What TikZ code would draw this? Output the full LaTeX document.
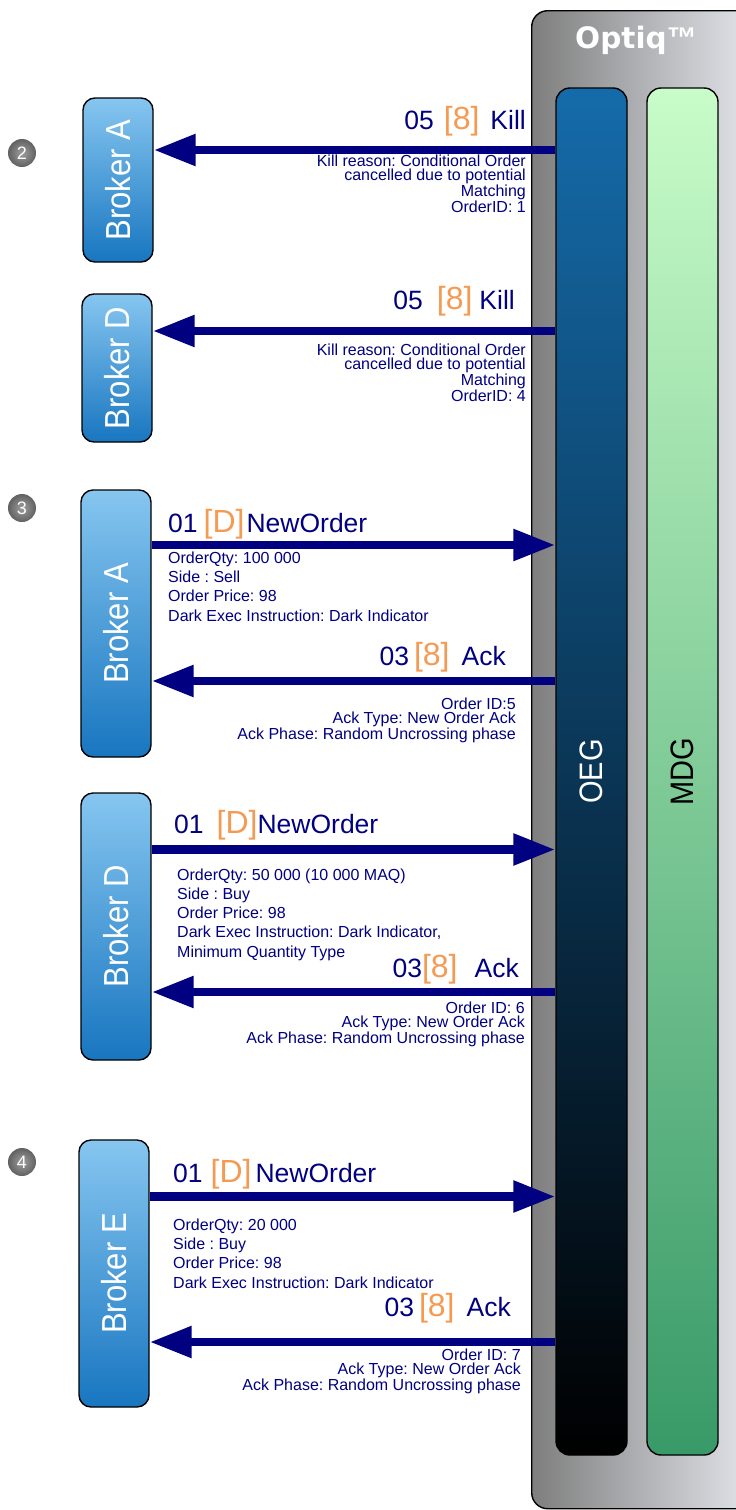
\documentclass[tikz,border=0pt]{standalone}
\usepackage{fontspec}
\setmainfont{Liberation Sans}
\newfontfamily\titlefont{DejaVu Sans}
\newfontfamily\tmfont{Liberation Sans}
\usetikzlibrary{arrows.meta,calc}
\definecolor{navy}{HTML}{000080}
\definecolor{orng}{HTML}{F59A52}
\definecolor{brktop}{HTML}{86C6F0}
\definecolor{brkbot}{HTML}{1876C0}
\definecolor{oegtop}{HTML}{156BAA}
\definecolor{mdgtop}{HTML}{C8FCC8}
\definecolor{mdgbot}{HTML}{389A68}
\definecolor{optl}{HTML}{7E7E7E}
\definecolor{optr}{HTML}{E6E9EF}
\newcommand{\ob}[1]{{\color{orng}\fontsize{32}{32}\selectfont #1}}
\tikzset{
  broker/.style={draw=black, line width=1.4pt, rounded corners=12pt, top color=brktop, bottom color=brkbot, minimum width=70, inner sep=0},
  brokertext/.style={rotate=90, text=white, font=\fontsize{31}{31}\selectfont, inner sep=0},
  bartext/.style={rotate=90, font=\fontsize{29}{29}\selectfont, inner sep=0},
  msgr/.style={draw=navy, line width=8.5pt, -{Triangle[length=42pt,width=30pt]}},
  lbl/.style={text=navy, font=\fontsize{26.5}{26.5}\selectfont, inner sep=0},
  descr/.style={text=navy, font=\fontsize{16}{14}\selectfont\frenchspacing, inner sep=0, align=right},
  descl/.style={text=navy, font=\fontsize{16}{19.2}\selectfont\frenchspacing, inner sep=0, align=left},
  num/.style={circle, minimum size=28, inner sep=0, inner color=black!38, outer color=black!62, text=white, font=\fontsize{18}{18}\selectfont}
}
\begin{document}
\begin{tikzpicture}[x=1pt,y=-1pt]
\useasboundingbox (0,0) rectangle (736,1510);
\clip (0,0) rectangle (736,1510);
% Optiq container
\node[draw=black, line width=1.4pt, rounded corners=16pt, left color=optl, right color=optr, minimum width=230, minimum height=1498, inner sep=0, anchor=north west] (optiq) at (531,10) {};
\node[text=white, font=\titlefont\bfseries\fontsize{29.5}{29.5}\selectfont, anchor=base, inner sep=0] (title) at (636,48) {Optiq{\tmfont\bfseries\fontsize{30}{30}\selectfont ™}};
% OEG and MDG
\node[draw=black, line width=1.4pt, rounded corners=14pt, top color=oegtop, bottom color=black, minimum width=71, minimum height=1367, inner sep=0] (oeg) at (591.5,771.5) {};
\node[bartext, text=white] (oegt) at (oeg) {\scalebox{1}[1.12]{OEG}};
\node[draw=black, line width=1.4pt, rounded corners=14pt, top color=mdgtop, bottom color=mdgbot, minimum width=71, minimum height=1367, inner sep=0] (mdg) at (682.5,771.5) {};
\node[bartext, text=black] (mdgt) at (mdg) {\scalebox{1}[1.12]{MDG}};
% step numbers
\node[num] (n2) at (22,153) {2};
\node[num] (n3) at (22,508) {3};
\node[num] (n4) at (22,1162) {4};
% brokers
\node[broker, minimum height=164] (bA1) at (118,180) {};
\node[brokertext] at (bA1) {\scalebox{1}[1.12]{Broker A}};
\node[broker, minimum height=148] (bD1) at (117,368) {};
\node[brokertext] at (bD1) {\scalebox{1}[1.12]{Broker D}};
\node[broker, minimum height=267] (bA2) at (116,623.5) {};
\node[brokertext] at (bA2) {\scalebox{1}[1.12]{Broker A}};
\node[broker, minimum height=267] (bD2) at (116,926.5) {};
\node[brokertext] at (bD2) {\scalebox{1}[1.12]{Broker D}};
\node[broker, minimum height=267] (bE) at (114,1273.5) {};
\node[brokertext] at (bE) {\scalebox{1}[1.12]{Broker E}};
% messages (multi-line text nodes are anchored at the baseline of their last line)
\draw[msgr] (oeg.west |- 0,150) -- (bA1.east |- 0,150);
\node[lbl, anchor=base east] (l1) at (526,129) {05\hspace{10pt}\ob{[8]}\hspace{11pt}Kill};
\node[descr, anchor=base east] (d1) at (526,212) {Kill reason: Conditional Order\\cancelled due to potential\\Matching\\OrderID: 1};

\draw[msgr] (oeg.west |- 0,331) -- (bD1.east |- 0,331);
\node[lbl, anchor=base east] (l2) at (515,309) {05\hspace{14pt}\ob{[8]}\hspace{7pt}Kill};
\node[descr, anchor=base east] (d2) at (526,401) {Kill reason: Conditional Order\\cancelled due to potential\\Matching\\OrderID: 4};

\draw[msgr] (bA2.east |- 0,545) -- (oeg.west |- 0,545);
\node[lbl, anchor=base west] (l3) at (168,532) {01\hspace{6pt}\ob{[D]}\hspace{2pt}NewOrder};
\node[descl, anchor=base west] (d3) at (168,621) {OrderQty: 100 000\\Side : Sell\\Order Price: 98\\Dark Exec Instruction: Dark Indicator};

\draw[msgr] (oeg.west |- 0,681) -- (bA2.east |- 0,681);
\node[lbl, anchor=base east] (l4) at (506,665) {03\hspace{5pt}\ob{[8]}\hspace{12pt}Ack};
\node[descr, anchor=base east] (d4) at (516,739.5) {Order ID:5\\Ack Type: New Order Ack\\Ack Phase: Random Uncrossing phase};

\draw[msgr] (bD2.east |- 0,849.5) -- (oeg.west |- 0,849.5);
\node[lbl, anchor=base west] (l5) at (174,833) {01\hspace{13pt}\ob{[D]}NewOrder};
\node[descl, anchor=base west] (d5) at (177,957) {OrderQty: 50 000 (10 000 MAQ)\\Side : Buy\\Order Price: 98\\Dark Exec Instruction: Dark Indicator,\\Minimum Quantity Type};

\draw[msgr] (oeg.west |- 0,992) -- (bD2.east |- 0,992);
\node[lbl, anchor=base east] (l6) at (519,977) {03\ob{[8]}\hspace{17pt}Ack};
\node[descr, anchor=base east] (d6) at (525,1043) {Order ID: 6\\Ack Type: New Order Ack\\Ack Phase: Random Uncrossing phase};

\draw[msgr] (bE.east |- 0,1196.5) -- (oeg.west |- 0,1196.5);
\node[lbl, anchor=base west] (l7) at (173,1182) {01\hspace{8pt}\ob{[D]}\hspace{4pt}NewOrder};
\node[descl, anchor=base west] (d7) at (173,1288) {OrderQty: 20 000\\Side : Buy\\Order Price: 98\\Dark Exec Instruction: Dark Indicator};

\draw[msgr] (oeg.west |- 0,1342) -- (bE.east |- 0,1342);
\node[lbl, anchor=base east] (l8) at (511,1316) {03\hspace{5pt}\ob{[8]}\hspace{12pt}Ack};
\node[descr, anchor=base east] (d8) at (521,1390.5) {Order ID: 7\\Ack Type: New Order Ack\\Ack Phase: Random Uncrossing phase};
\end{tikzpicture}
\end{document}
